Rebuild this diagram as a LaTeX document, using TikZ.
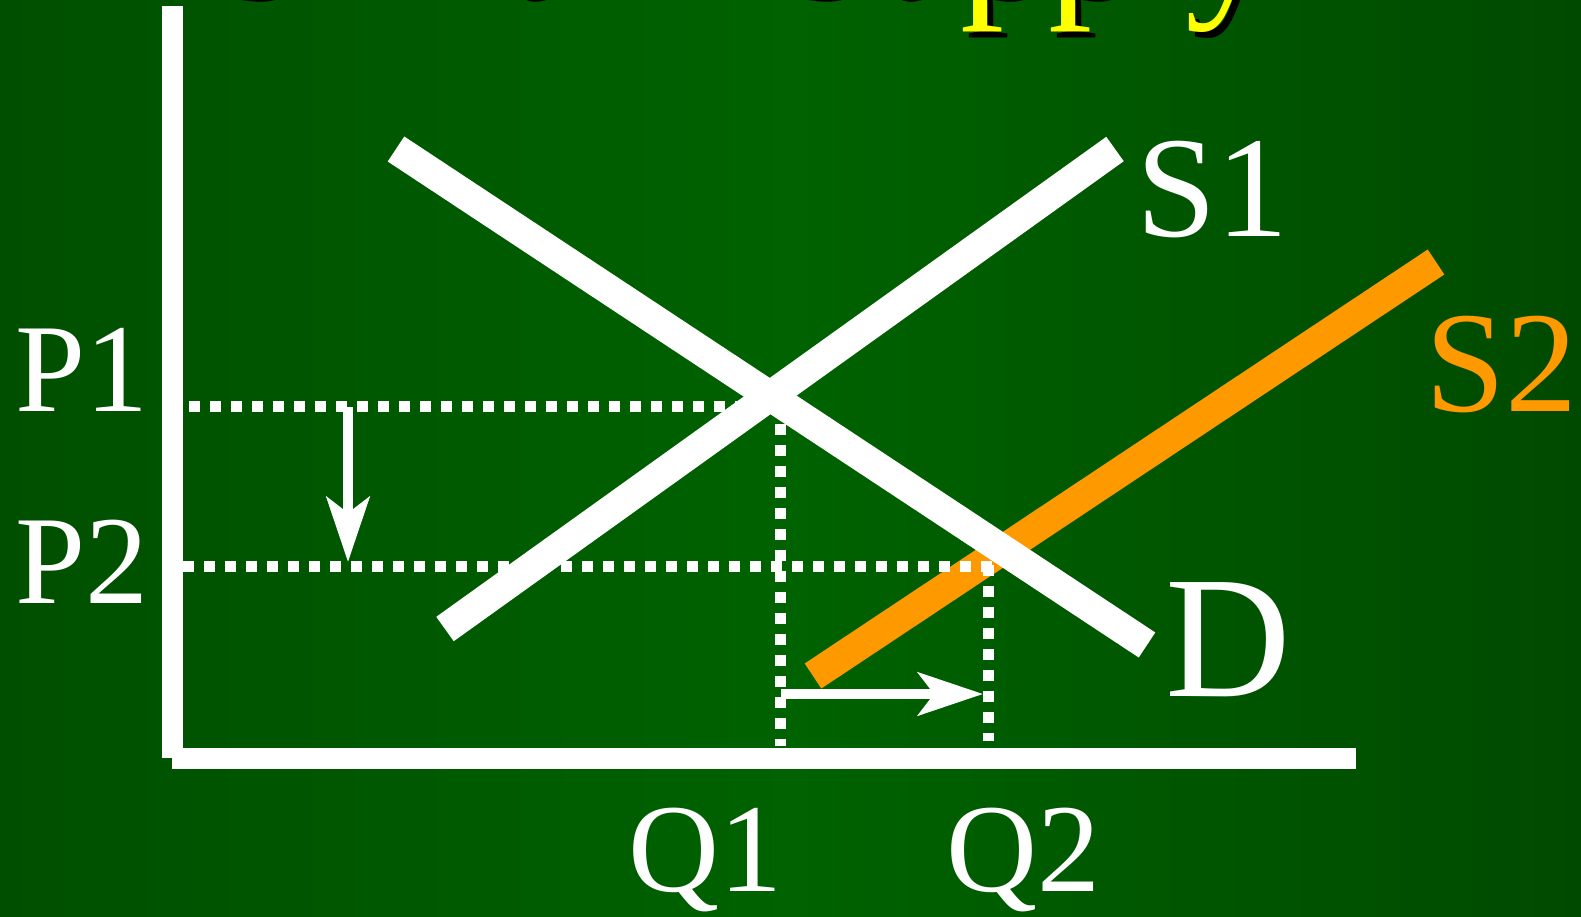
\documentclass[tikz,border=0pt]{standalone}
\usepackage{fontspec}
\setmainfont{Liberation Serif}
\usetikzlibrary{arrows.meta}
\definecolor{bgl}{HTML}{004F00}
\definecolor{bgm}{HTML}{006200}
\definecolor{bgr}{HTML}{004A00}
\definecolor{supor}{HTML}{FF9900}
\definecolor{titley}{HTML}{FFFF00}
\tikzset{
  axisline/.style={white,line width=21pt,line cap=butt},
  curve/.style={line width=30pt,line cap=butt},
  dotline/.style={white,line width=11pt,dash pattern=on 11pt off 10pt},
  shiftarrow/.style={white,line width=10pt,-{Stealth[length=65pt,width=43pt,inset=16pt]}},
  lbl/.style={white,inner sep=0pt,anchor=base west},
}
\begin{document}
\begin{tikzpicture}[x=1pt,y=-1pt]
\clip (0,0) rectangle (1581,916);
\shade[left color=bgl,right color=bgr,middle color=bgm] (0,0) rectangle (1581,916);
% title (mostly above the picture)
\node[inner sep=0pt,anchor=base west,text=black] (titleshadow) at (213,0.5)
  {\fontsize{176}{176}\selectfont Shift in Supply};
\node[inner sep=0pt,anchor=base west] (title) at (207,-6)
  {\fontsize{176}{176}\selectfont \textcolor{white}{Shift in} \textcolor{titley}{Supply}};
% axes
\coordinate (ytop) at (172.5,6);
\coordinate (ybot) at (172.5,758);
\coordinate (xl) at (172,758);
\coordinate (xr) at (1356,758);
\draw[axisline] (ytop) -- (ybot);
\draw[axisline] (xl) -- (xr);
% curves
\coordinate (s1a) at (445,629);
\coordinate (s1b) at (1115,149);
\coordinate (s2a) at (813,676);
\coordinate (s2b) at (1436,262);
\coordinate (da) at (396,149);
\coordinate (db) at (1147,645);
\draw[curve,white] (s1a) -- (s1b);
\draw[curve,supor] (s2a) -- (s2b);
\draw[curve,white] (da) -- (db);
% dotted guides
\coordinate (p1a) at (189,406.5);
\coordinate (p1b) at (742,406.5);
\coordinate (p2a) at (183,566.5);
\coordinate (p2b) at (994,566.5);
\coordinate (q1a) at (780,424);
\coordinate (q1b) at (780,746);
\coordinate (q2a) at (988.5,565);
\coordinate (q2b) at (988.5,741);
\draw[dotline] (p1a) -- (p1b);
\draw[dotline] (p2a) -- (p2b);
\draw[dotline] (q1a) -- (q1b);
\draw[dotline] (q2a) -- (q2b);
% shift arrows
\coordinate (dna) at (348,407);
\coordinate (dnb) at (348,562);
\coordinate (rta) at (781,694);
\coordinate (rtb) at (983,694);
\draw[shiftarrow] (dna) -- (dnb);
\draw[shiftarrow] (rta) -- (rtb);
% labels
\node[lbl,font=\fontsize{126}{126}\selectfont] (P1) at (15,411) {P1};
\node[lbl,font=\fontsize{126}{126}\selectfont] (P2) at (15,603) {P2};
\node[lbl,font=\fontsize{126}{126}\selectfont] (Q1) at (628,891) {Q1};
\node[lbl,font=\fontsize{126}{126}\selectfont] (Q2) at (946,891) {Q2};
\node[lbl,font=\fontsize{144}{144}\selectfont] (S1) at (1136,236) {S1};
\node[lbl,font=\fontsize{144}{144}\selectfont,text=supor] (S2) at (1425,411) {S2};
\node[lbl,font=\fontsize{174}{174}\selectfont] (D) at (1165,696) {D};
\end{tikzpicture}
\end{document}
